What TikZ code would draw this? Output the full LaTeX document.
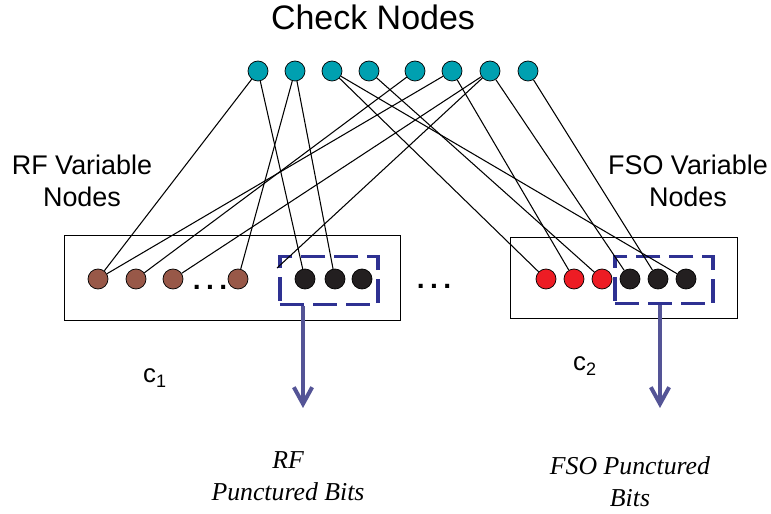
\documentclass[tikz,border=0pt]{standalone}
\usepackage{fontspec}
\setmainfont{Liberation Serif}
\setsansfont{Liberation Sans}
\usepackage{xcolor}
\usetikzlibrary{arrows.meta}
\definecolor{chkcol}{RGB}{0,160,176}
\definecolor{rfcol}{RGB}{152,88,72}
\definecolor{fsocol}{RGB}{237,28,36}
\definecolor{bitcol}{RGB}{35,31,32}
\definecolor{dashblue}{RGB}{46,49,146}
\definecolor{arrowcol}{RGB}{84,84,150}
\tikzstyle{vnode} = [draw=black, circle, minimum size=0.6cm, inner sep=0pt, line width=0.6pt]
\tikzstyle{punctarrow} = [line width=3.4pt, arrowcol, -{Straight Barb[length=0.5cm, width=0.55cm]}]

\begin{document}
\begin{tikzpicture}[x=0.03cm, y=-0.03cm,
          chk/.style={vnode, fill=chkcol},
          rfbit/.style={vnode, fill=rfcol},
          fsobit/.style={vnode, fill=fsocol},
          pbit/.style={vnode, fill=bitcol},
          punctbox/.style={draw=dashblue, line width=2.8pt, dash pattern=on 0.72cm off 0.27cm, minimum width=2.94cm, minimum height=1.42cm, inner sep=0pt},
          edge/.style={draw, line width=0.9pt},
          dots/.style={font=\sffamily\bfseries\fontsize{24pt}{24pt}\selectfont, anchor=base, inner sep=0pt},
          bigtext/.style={font=\sffamily\fontsize{23pt}{27.3pt}\selectfont, align=center, inner sep=0pt},
          sublab/.style={font=\sffamily\fontsize{22pt}{22pt}\selectfont, anchor=base west, inner sep=0pt},
          bitstext/.style={font=\itshape\fontsize{22pt}{27.3pt}\selectfont, align=center, inner sep=0pt}]
  \useasboundingbox (0,0) rectangle (771,514);

  % check nodes
  \foreach \i/\x in {1/258, 2/295, 3/332, 4/369, 5/415, 6/452, 7/490, 8/528}
    \node[chk] (chk\i) at (\x,71) {};

  % variable node groups
  \draw[line width=0.8pt] (64,235) rectangle (400,320);
  \draw[line width=0.8pt] (510,237) rectangle (737,318);

  \node[rfbit] (rf1) at (98,279) {};
  \node[rfbit] (rf2) at (136,279) {};
  \node[rfbit] (rf3) at (173,279) {};
  \node[rfbit] (rf4) at (238,279) {};
  \node[pbit] (rfp1) at (305,279) {};
  \node[pbit] (rfp2) at (335,279) {};
  \node[pbit] (rfp3) at (362,279) {};

  \node[fsobit] (fso1) at (546,279) {};
  \node[fsobit] (fso2) at (574,279) {};
  \node[fsobit] (fso3) at (602,279) {};
  \node[pbit] (fsop1) at (630,279) {};
  \node[pbit] (fsop2) at (658,279) {};
  \node[pbit] (fsop3) at (686,279) {};

  \node[dots] (rfdots) at (210,290) {.\hspace{0.19em}.\hspace{0.19em}.};
  \node[dots] (middots) at (434,289) {.\hspace{0.19em}.\hspace{0.19em}.};

  \node[punctbox] (rfpbox) at (329,280.5) {};
  \node[punctbox] (fsopbox) at (664,280) {};

  \coordinate (loose) at (277,268);

  % edges
  \draw[edge] (chk1) -- (rf1);
  \draw[edge] (chk1) -- (rfp1);
  \draw[edge] (chk2) -- (rf4);
  \draw[edge] (chk2) -- (rfp2);
  \draw[edge] (chk3) -- (fso1);
  \draw[edge] (chk3) -- (fsop3);
  \draw[edge] (chk4) -- (fso3);
  \draw[edge] (chk5) -- (rf2);
  \draw[edge] (chk6) -- (rf1);
  \draw[edge] (chk6) -- (fso2);
  \draw[edge] (chk7) -- (rf3);
  \draw[edge] (chk7) -- (loose);
  \draw[edge] (chk7) -- (fsop1);
  \draw[edge] (chk8) -- (fsop2);

  % punctured bits
  \coordinate (rfend) at (303,408);
  \coordinate (fsoend) at (660,408);
  \draw[punctarrow] (rfpbox.south -| rfend) -- (rfend);
  \draw[punctarrow] (fsopbox.south -| fsoend) -- (fsoend);

  % labels
  \node[font=\sffamily\fontsize{29pt}{34pt}\selectfont, anchor=base, inner sep=0pt] (chklab) at (373,30) {Check Nodes};
  \node[bigtext, anchor=north] (rflab) at (82,155) {RF Variable\\Nodes};
  \node[bigtext, anchor=north] (fsolab) at (688,155) {FSO Variable\\Nodes};
  \node[sublab] (c1lab) at (143,383) {c\textsubscript{1}};
  \node[sublab] (c2lab) at (573,371) {c\textsubscript{2}};
  \node[bitstext, anchor=north] (rfbits) at (288,451) {RF\\Punctured Bits};
  \node[bitstext, anchor=north] (fsobits) at (630,456) {FSO Punctured\\Bits};
\end{tikzpicture}
\end{document}
